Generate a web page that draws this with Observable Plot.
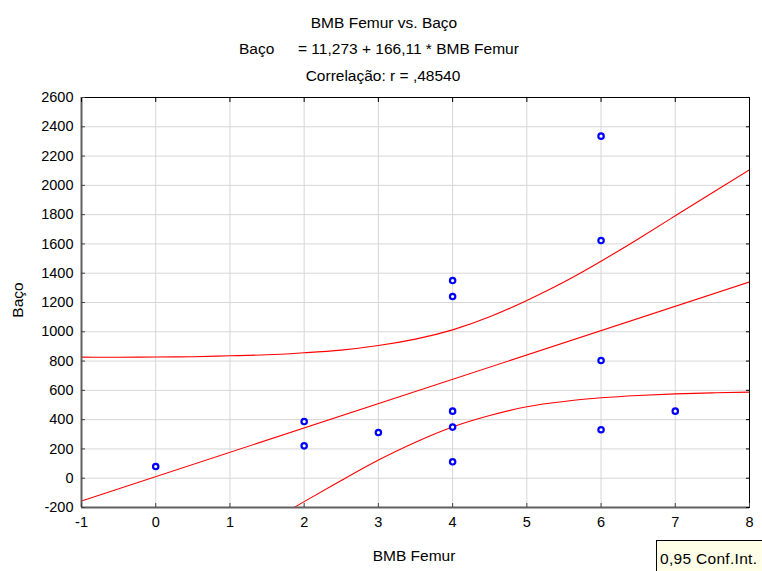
<!DOCTYPE html>
<html><head><meta charset="utf-8">
<script src="https://cdn.jsdelivr.net/npm/d3@7"></script>
<script src="https://cdn.jsdelivr.net/npm/@observablehq/plot@0.6"></script>
<style>
body{margin:0;background:#fff;font-family:"Liberation Sans",Arial,sans-serif;}
#wrap{position:relative;width:762px;height:571px;overflow:hidden;}
.t{position:absolute;font-size:15.5px;color:#000;white-space:pre;line-height:1;}
#legend{position:absolute;left:656px;top:540px;width:110px;height:40px;border:1px solid #000;background:#ffffe8;box-sizing:border-box;}
</style></head><body><div id="wrap"></div>
<script>
// ---- data ----
const titleText = "BMB Femur vs. Baço";
const eqLeft = "Baço";
const eqRight = "= 11,273 + 166,11 * BMB Femur";
const corrText = "Correlação: r = ,48540";
const xLabel = "BMB Femur";
const yLabel = "Baço";
const legendText = "0,95 Conf.Int.";

const xDomain = [-1, 8];
const yDomain = [-200, 2600];
const xTicks = [-1, 0, 1, 2, 3, 4, 5, 6, 7, 8];
const yTicks = [-200, 0, 200, 400, 600, 800, 1000, 1200, 1400, 1600, 1800, 2000, 2200, 2400, 2600];

const femur = [0, 2, 2, 3, 4, 4, 4, 4, 4, 6, 6, 6, 6, 7];
const baco  = [80, 387, 221, 312, 1350, 1241, 458, 349, 112, 2336, 1623, 804, 331, 458];

const regX = [-1, 8];
const regY = [-155, 1340];

const upperX = [-1, -0.5, 0, 0.5, 1, 1.5, 2, 2.5, 3, 3.5, 4, 4.5, 5, 5.5, 6, 6.5, 7, 7.5, 8];
const upperY = [827, 826, 828, 830, 836, 843, 857, 875, 906, 950, 1013, 1102, 1214, 1340, 1482, 1634, 1792, 1950, 2106];

const lowerX = [1.75, 2, 2.5, 3, 3.5, 4, 4.5, 5, 5.5, 6, 6.5, 7, 7.5, 8];
const lowerY = [-235, -160, -16, 124, 246, 350, 428, 488, 524, 549, 565, 576, 583, 588];

// ---- build tables ----
const pts = femur.map((x, i) => ({x, y: baco[i]}));
const reg = regX.map((x, i) => ({x, y: regY[i]}));
const up = upperX.map((x, i) => ({x, y: upperY[i]}));
const lo = lowerX.map((x, i) => ({x, y: lowerY[i]}));

const fmt = d => String(d);
const grid = "#d6d6d6";

const chart = Plot.plot({
  width: 762, height: 571,
  marginTop: 97, marginRight: 13, marginBottom: 64, marginLeft: 81,
  x: {domain: xDomain},
  y: {domain: yDomain},
  style: {fontFamily: '"Liberation Sans", Arial, sans-serif', fontSize: "14.5px", color: "#000", background: "transparent", overflow: "visible"},
  marks: [
    Plot.gridX(xTicks, {stroke: grid, strokeOpacity: 1}),
    Plot.gridY(yTicks, {stroke: grid, strokeOpacity: 1}),
    Plot.line(reg, {x: "x", y: "y", stroke: "#ff0000", strokeWidth: 1.1, clip: true}),
    Plot.line(up, {x: "x", y: "y", stroke: "#ff0000", strokeWidth: 1.1, curve: "natural", clip: true}),
    Plot.line(lo, {x: "x", y: "y", stroke: "#ff0000", strokeWidth: 1.1, curve: "natural", clip: true}),
    Plot.dot(pts, {x: "x", y: "y", r: 2.7, stroke: "#0000ff", strokeWidth: 2.2, fill: "white"}),
    Plot.ruleY([yDomain[1]], {stroke: "#000", strokeWidth: 1}),
    Plot.ruleX([xDomain[1]], {stroke: "#000", strokeWidth: 1}),
    Plot.ruleX([xDomain[0]], {stroke: "#606060", strokeWidth: 2}),
    Plot.ruleY([yDomain[0]], {stroke: "#606060", strokeWidth: 2}),
    Plot.axisX(xTicks, {anchor: "bottom", tickSize: -4, fill: "none", stroke: "#444", label: null}),
    Plot.axisX(xTicks, {anchor: "bottom", tickSize: 0, tickPadding: 9, tickFormat: fmt, label: null}),
    Plot.axisX(xTicks, {anchor: "top", tickSize: -4, fill: "none", stroke: "#000", label: null}),
    Plot.axisY(yTicks, {anchor: "left", tickSize: -4, fill: "none", stroke: "#444", label: null}),
    Plot.axisY(yTicks, {anchor: "left", tickSize: 0, tickPadding: 8, tickFormat: fmt, label: null}),
    Plot.axisY(yTicks, {anchor: "right", tickSize: -4, fill: "none", stroke: "#000", label: null})
  ]
});

const wrap = document.getElementById("wrap");
wrap.appendChild(chart);

function addText(txt, css) {
  const d = document.createElement("div");
  d.className = "t";
  d.textContent = txt;
  Object.assign(d.style, css);
  wrap.appendChild(d);
  return d;
}
addText(titleText, {left: "384px", top: "15px", transform: "translateX(-50%)"});
addText(eqLeft, {left: "239px", top: "41px"});
addText(eqRight, {left: "298px", top: "41px"});
addText(corrText, {left: "383px", top: "68px", transform: "translateX(-50%)"});
addText(xLabel, {left: "414px", top: "548px", transform: "translateX(-50%)"});
addText(yLabel, {left: "18px", top: "300px", transform: "translate(-50%,-50%) rotate(-90deg)"});

const lg = document.createElement("div");
lg.id = "legend";
wrap.appendChild(lg);
addText(legendText, {left: "660px", top: "551px", letterSpacing: "0.3px"});
</script>
</body></html>
